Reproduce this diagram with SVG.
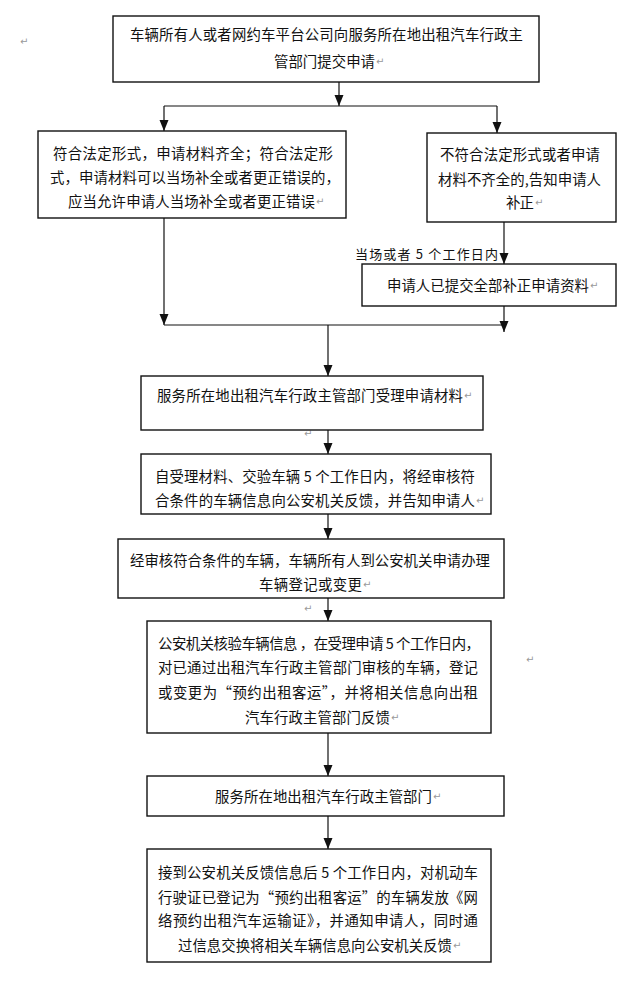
<svg xmlns="http://www.w3.org/2000/svg" width="640" height="983" viewBox="0 0 640 983">
<defs>
<marker id="ah" markerUnits="userSpaceOnUse" markerWidth="11" markerHeight="10" viewBox="0 0 11 10" refX="11" refY="5" orient="auto">
<path d="M0,0.5 L11,5 L0,9.5 z" fill="#111"/>
</marker>
<style>
.box{fill:#fff;stroke:#111;stroke-width:1.4}
.t{font-family:"Noto Sans CJK SC","Noto Sans",sans-serif;font-size:14.4px;fill:#111;dominant-baseline:central}
.lbl{font-family:"Noto Sans CJK SC","Noto Sans",sans-serif;font-size:13px;fill:#111;dominant-baseline:central}
.pm{font-family:"DejaVu Sans",sans-serif;font-size:10px;fill:#999;dominant-baseline:central}
.c{stroke:#111;stroke-width:1.2;fill:none}
.ca{stroke:#111;stroke-width:1.2;fill:none;marker-end:url(#ah)}
</style>
</defs>
<rect width="640" height="983" fill="#fff"/>

<g id="connectors">
<line class="ca" x1="339" y1="82" x2="339" y2="106"/>
<line class="c" x1="164" y1="106" x2="497" y2="106"/>
<line class="ca" x1="164" y1="106" x2="164" y2="131"/>
<line class="ca" x1="497" y1="106" x2="497" y2="133"/>
<line class="ca" x1="164" y1="218" x2="164" y2="325"/>
<line class="ca" x1="504" y1="222" x2="504" y2="264"/>
<line class="ca" x1="504" y1="306" x2="504" y2="332"/>
<line class="c" x1="164" y1="325" x2="504" y2="325"/>
<line class="ca" x1="328" y1="325" x2="328" y2="376"/>
<line class="ca" x1="328" y1="430" x2="328" y2="454"/>
<line class="ca" x1="328" y1="514" x2="328" y2="539"/>
<line class="ca" x1="328" y1="598" x2="328" y2="621"/>
<line class="ca" x1="328" y1="733" x2="328" y2="776"/>
<line class="ca" x1="328" y1="816" x2="328" y2="849"/>
</g>

<g id="marks">
<text class="pm" x="20" y="41">↵</text>
<text class="pm" x="526" y="659">↵</text>
<text class="pm" x="304" y="433">↵</text>
<text class="pm" x="304" y="608">↵</text>
</g>

<g id="n1">
<rect class="box" x="113" y="16" width="426" height="66"/>
<text class="t" x="130" y="33" textLength="393" lengthAdjust="spacing">车辆所有人或者网约车平台公司向服务所在地出租汽车行政主</text>
<text class="t" x="274" y="60" textLength="101" lengthAdjust="spacing">管部门提交申请</text>
<text class="pm" x="376" y="61">↵</text>
</g>

<g id="n2">
<rect class="box" x="38" y="131" width="308" height="87"/>
<text class="t" x="53" y="152" textLength="280" lengthAdjust="spacing">符合法定形式，申请材料齐全；符合法定形</text>
<text class="t" x="50" y="176" textLength="290" lengthAdjust="spacing">式，申请材料可以当场补全或者更正错误的，</text>
<text class="t" x="68" y="200" textLength="247" lengthAdjust="spacing">应当允许申请人当场补全或者更正错误</text>
<text class="pm" x="316" y="201">↵</text>
</g>

<g id="n3">
<rect class="box" x="427" y="133" width="189" height="89"/>
<text class="t" x="440" y="153" textLength="160" lengthAdjust="spacing">不符合法定形式或者申请</text>
<text class="t" x="438" y="178" textLength="163" lengthAdjust="spacing">材料不齐全的,告知申请人</text>
<text class="t" x="506" y="201" textLength="28" lengthAdjust="spacing">补正</text>
<text class="pm" x="535" y="202">↵</text>
</g>

<g id="label">
<text class="lbl" x="355" y="253" textLength="143" lengthAdjust="spacing">当场或者 5 个工作日内</text>
</g>

<g id="n4">
<rect class="box" x="362" y="264" width="254" height="42"/>
<text class="t" x="387" y="284" textLength="202" lengthAdjust="spacing">申请人已提交全部补正申请资料</text>
<text class="pm" x="590" y="285">↵</text>
</g>

<g id="n5">
<rect class="box" x="141" y="376" width="342" height="54"/>
<text class="t" x="157" y="394" textLength="306" lengthAdjust="spacing">服务所在地出租汽车行政主管部门受理申请材料</text>
<text class="pm" x="464" y="395">↵</text>
</g>

<g id="n6">
<rect class="box" x="141" y="454" width="350" height="60"/>
<text class="t" x="155" y="475" textLength="320" lengthAdjust="spacing">自受理材料、交验车辆 5 个工作日内，将经审核符</text>
<text class="t" x="155" y="499" textLength="320" lengthAdjust="spacing">合条件的车辆信息向公安机关反馈，并告知申请人</text>
<text class="pm" x="476" y="500">↵</text>
</g>

<g id="n7">
<rect class="box" x="118" y="539" width="386" height="59"/>
<text class="t" x="130" y="559" textLength="360" lengthAdjust="spacing">经审核符合条件的车辆，车辆所有人到公安机关申请办理</text>
<text class="t" x="259" y="583" textLength="103" lengthAdjust="spacing">车辆登记或变更</text>
<text class="pm" x="363" y="584">↵</text>
</g>

<g id="n8">
<rect class="box" x="147" y="621" width="344" height="112"/>
<text class="t" x="158" y="642" textLength="322" lengthAdjust="spacing">公安机关核验车辆信息 ，在受理申请 5 个工作日内，</text>
<text class="t" x="158" y="666" textLength="320" lengthAdjust="spacing">对已通过出租汽车行政主管部门审核的车辆，登记</text>
<text class="t" x="158" y="691" textLength="320" lengthAdjust="spacing">或变更为“预约出租客运”，并将相关信息向出租</text>
<text class="t" x="245" y="716" textLength="145" lengthAdjust="spacing">汽车行政主管部门反馈</text>
<text class="pm" x="391" y="717">↵</text>
</g>

<g id="n9">
<rect class="box" x="147" y="776" width="357" height="40"/>
<text class="t" x="215" y="795" textLength="217" lengthAdjust="spacing">服务所在地出租汽车行政主管部门</text>
<text class="pm" x="433" y="796">↵</text>
</g>

<g id="n10">
<rect class="box" x="147" y="849" width="344" height="113"/>
<text class="t" x="158" y="871" textLength="320" lengthAdjust="spacing">接到公安机关反馈信息后 5 个工作日内，对机动车</text>
<text class="t" x="158" y="896" textLength="320" lengthAdjust="spacing">行驶证已登记为“预约出租客运”的车辆发放《网</text>
<text class="t" x="158" y="919" textLength="320" lengthAdjust="spacing">络预约出租汽车运输证》，并通知申请人，同时通</text>
<text class="t" x="178" y="944" textLength="274" lengthAdjust="spacing">过信息交换将相关车辆信息向公安机关反馈</text>
<text class="pm" x="453" y="945">↵</text>
</g>
</svg>
